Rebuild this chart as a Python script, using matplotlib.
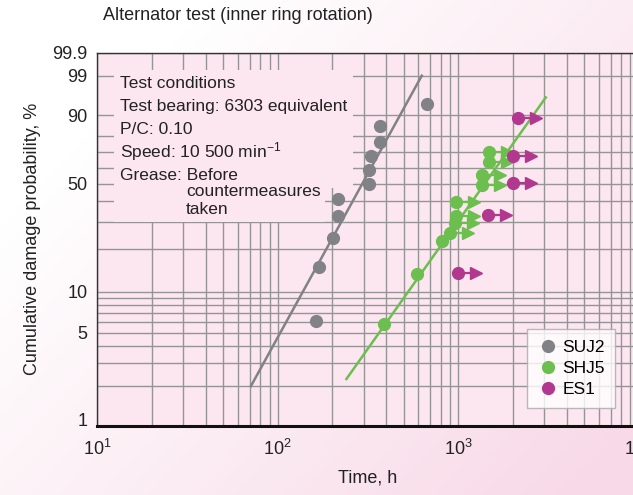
import numpy as np
import matplotlib.pyplot as plt
import matplotlib.transforms as mtransforms
from matplotlib.colors import LinearSegmentedColormap
from matplotlib.lines import Line2D
from matplotlib.patches import Rectangle

plt.rcParams['font.family'] = ['Liberation Sans', 'DejaVu Sans']
plt.rcParams['mathtext.default'] = 'regular'

# -------- datos (tiempo en h, probabilidad en %) --------
suj2_t = [163, 169, 202, 216, 216, 320, 320, 328, 368, 368, 668]
suj2_F = [6.1, 14.9, 23.7, 32.5, 41.2, 50.0, 58.8, 67.5, 76.3, 85.1, 93.9]
suj2_fit_t = [71, 628]
suj2_fit_F = [2.0, 99.0]

# SHJ5: fallas (solo circulo) y suspendidos (circulo + flecha)
shj5_t = [389, 589, 809]
shj5_F = [5.8, 13.3, 22.6]
shj5_susp_t = [899, 959, 971, 971, 1349, 1349, 1486, 1486]
shj5_susp_F = [25.3, 29.4, 32.8, 39.9, 49.1, 55.8, 63.6, 70.5]
shj5_fit_t = [240, 3055]
shj5_fit_F = [2.26, 95.7]

# ES1: todos suspendidos
es1_t = [1000, 1466, 2000, 2000, 2148]
es1_F = [13.5, 33.2, 50.8, 67.7, 88.9]

y_ticks = [1, 5, 10, 50, 90, 99, 99.9]
y_grid = [1, 2, 3, 4, 5, 6, 7, 8, 9, 10, 20, 30, 40, 50, 60, 70, 80, 90, 99]

GRAY = '#818285'
GREEN = '#6cbf4f'
MAGENTA = '#b2378f'
PINK = '#fce6ef'
GRID = '#959595'

W, H = 633, 495


def weib(F):
    F = np.clip(np.asarray(F, dtype=float), 1e-6, 99.9999)
    return np.log(-np.log(1 - F / 100))


def weib_inv(w):
    return 100 * (1 - np.exp(-np.exp(w)))


fig = plt.figure(figsize=(W / 100, H / 100), dpi=100)

# fondo degradado blanco -> rosa
bg = fig.add_axes([0, 0, 1, 1], zorder=-10)
xx, yy = np.meshgrid(np.linspace(0, 1, 200), np.linspace(0, 1, 200))
grad = np.clip(0.75 * xx + 0.55 * yy - 0.25, 0, 1)
cmap = LinearSegmentedColormap.from_list('bg', ['#ffffff', '#f8d9e7'])
bg.imshow(grad, cmap=cmap, extent=[0, 1, 0, 1], aspect='auto', origin='upper')
bg.axis('off')

x0, x1, y0, y1 = 97.3, 638.7, 52.5, 426
ax = fig.add_axes([x0 / W, 1 - y1 / H, (x1 - x0) / W, (y1 - y0) / H])
ax.set_facecolor(PINK)
ax.set_xscale('log')
ax.set_yscale('function', functions=(weib, weib_inv))
ax.set_xlim(10, 1e4)
ax.set_ylim(1, 99.9)

ax.set_yticks(y_ticks)
ax.set_yticklabels([str(v) for v in y_ticks])
ax.set_yticks([v for v in y_grid if v not in y_ticks], minor=True)
ax.set_xticks([10, 100, 1000, 10000])
ax.set_xticklabels([r'$10^{1}$', r'$10^{2}$', r'$10^{3}$', r'$10^{4}$'])
ax.set_xticks([m * 10 ** e for e in range(1, 4) for m in range(2, 10)], minor=True)
ax.tick_params(which='both', length=0, labelsize=13, colors='#222222')
ax.tick_params(axis='x', pad=9)
ax.tick_params(axis='y', pad=7)
ax.grid(which='both', color=GRID, linewidth=1.0)
ax.set_axisbelow(True)

# la etiqueta "1" va un poco por encima del borde inferior
lab1 = ax.get_yticklabels()[0]
lab1.set_transform(lab1.get_transform() + mtransforms.ScaledTranslation(0, 7 / 100, fig.dpi_scale_trans))

for s in ['top', 'left']:
    ax.spines[s].set_color('#333333')
    ax.spines[s].set_linewidth(1.0)
ax.spines['bottom'].set_color('#111111')
ax.spines['bottom'].set_linewidth(2.2)
ax.spines['right'].set_visible(False)

# recuadro de condiciones (tapa la grilla)
def px_rect(xa, ya, xb, yb):
    return Rectangle(((xa - x0) / (x1 - x0), (y1 - yb) / (y1 - y0)),
                     (xb - xa) / (x1 - x0), (yb - ya) / (y1 - y0),
                     transform=ax.transAxes, facecolor=PINK, edgecolor='none', zorder=1)

ax.add_patch(px_rect(114, 70, 353, 188))
ax.add_patch(px_rect(114, 186, 325, 222))

# curvas de ajuste
ax.plot(suj2_fit_t, suj2_fit_F, color=GRAY, linewidth=1.8, zorder=2)
ax.plot(shj5_fit_t, shj5_fit_F, color=GREEN, linewidth=1.8, zorder=2)

ms = 8.5
ax.plot(suj2_t, suj2_F, 'o', color=GRAY, markersize=ms, zorder=4)
ax.plot(shj5_t, shj5_F, 'o', color=GREEN, markersize=ms, zorder=4)


def suspendidos(t, F, color):
    t = np.asarray(t, dtype=float)
    F = np.asarray(F, dtype=float)
    for ti, Fi in zip(t, F):
        ax.plot([ti, ti * 1.2], [Fi, Fi], color=color, linewidth=1.6, zorder=3)
    ax.plot(t * 1.26, F, '>', color=color, markersize=9, zorder=3)
    ax.plot(t, F, 'o', color=color, markersize=ms, zorder=4)


suspendidos(shj5_susp_t, shj5_susp_F, GREEN)
suspendidos(es1_t, es1_F, MAGENTA)

# textos
txt = dict(fontsize=12.5, color='#222222', va='center', ha='left')
fig.text(120 / W, 1 - 83 / H, 'Test conditions', **txt)
fig.text(120 / W, 1 - 106 / H, 'Test bearing: 6303 equivalent', **txt)
fig.text(120 / W, 1 - 129 / H, 'P/C: 0.10', **txt)
fig.text(120 / W, 1 - 152 / H, r'Speed: 10 500 min$^{-1}$', **txt)
fig.text(120 / W, 1 - 175 / H, 'Grease: Before', **txt)
fig.text(186 / W, 1 - 192 / H, 'countermeasures', **txt)
fig.text(186 / W, 1 - 209 / H, 'taken', **txt)

fig.text(103 / W, 1 - 16 / H, 'Alternator test (inner ring rotation)', fontsize=13,
         color='#222222', va='center', ha='left')
ax.set_xlabel('Time, h', fontsize=13, color='#222222', labelpad=8)
ax.set_ylabel('Cumulative damage probability, %', fontsize=13, color='#222222')
ax.yaxis.set_label_coords((41 - x0) / (x1 - x0), 0.5)

handles = [Line2D([], [], marker='o', linestyle='none', color=c, markersize=ms)
           for c in [GRAY, GREEN, MAGENTA]]
leg = ax.legend(handles, ['SUJ2', 'SHJ5', 'ES1'], loc='upper left',
                bbox_to_anchor=(526.7 / W, 1 - 329.3 / H), bbox_transform=fig.transFigure,
                borderaxespad=0, fontsize=12.5, frameon=True, fancybox=False,
                handletextpad=0.15, handlelength=1.3, labelspacing=0.35, borderpad=0.6)
leg.get_frame().set_edgecolor('#aaaaaa')
leg.get_frame().set_linewidth(1.0)
leg.set_zorder(6)

fig.savefig('out.png', dpi=100)
